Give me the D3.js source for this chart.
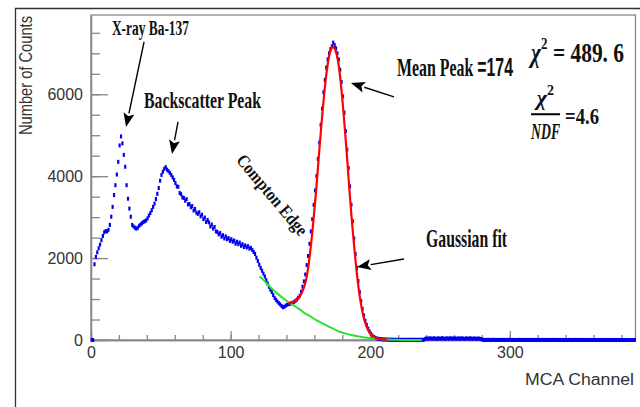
<!DOCTYPE html>
<html>
<head>
<meta charset="utf-8">
<script src="https://cdn.jsdelivr.net/npm/d3@7"></script>
<style>
  body { margin: 0; background: #fff; }
  .axis text { font-family: "Liberation Sans", Arial, sans-serif; font-size: 16px; fill: #333; }
  .axis line, .axis path { stroke: #888; stroke-width: 1.3; }
  .note { font-family: "Liberation Serif", "Times New Roman", serif; font-weight: bold; fill: #111; }
</style>
</head>
<body>
<svg id="spectrum" width="640" height="407"></svg>
<script>

// Counts per MCA channel, bin i covers [i, i+1)
var counts = [
    0, 0, 1850, 2030, 2140, 2240, 2330, 2440, 2540, 2630,          // 0
    2660, 2650, 2690, 2810, 3010, 3250, 3540, 3780, 4040, 4350,    // 10
    4750, 4970, 4800, 4520, 4230, 3780, 3450, 3210, 3010, 2810,    // 20
    2770, 2740, 2720, 2740, 2790, 2820, 2850, 2880, 2900, 2920,    // 30
    2970, 3040, 3100, 3170, 3250, 3330, 3440, 3570, 3710, 3890,    // 40
    4030, 4110, 4180, 4220, 4160, 4120, 4080, 4030, 3970, 3910,    // 50
    3830, 3750, 3740, 3590, 3560, 3480, 3470, 3400, 3440, 3310,    // 60
    3320, 3240, 3270, 3160, 3200, 3110, 3080, 3120, 3020, 3060,    // 70
    2950, 2990, 2880, 2930, 2870, 2770, 2820, 2720, 2760, 2650,    // 80
    2640, 2580, 2610, 2520, 2560, 2480, 2530, 2460, 2490, 2420,    // 90
    2460, 2400, 2430, 2350, 2400, 2340, 2380, 2300, 2340, 2270,    // 100
    2310, 2260, 2290, 2230, 2250, 2200, 2150, 2100, 2010, 1930,    // 110
    1840, 1760, 1690, 1620, 1550, 1460, 1380, 1300, 1230, 1170,    // 120
    1100, 1030, 980, 940, 900, 870, 830, 800, 810, 840,            // 130
    860, 875, 885, 895, 910, 930, 960, 990, 1030, 1080,            // 140
    1180, 1300, 1430, 1600, 1830, 2050, 2350, 2650, 2950, 3300,    // 150
    3650, 4000, 4420, 4820, 5250, 5650, 6050, 6350, 6650, 6850,    // 160
    7000, 7100, 7170, 7260, 7200, 7120, 7000, 6850, 6600, 6300,    // 170
    5950, 5550, 5100, 4650, 4200, 3750, 3300, 2900, 2480, 2100,    // 180
    1760, 1440, 1170, 950, 760, 600, 470, 370, 280, 210,           // 190
    150, 110, 75, 55, 40, 30, 25, 20, 18, 15,                      // 200
    12, 10, 9, 8, 7, 6, 6, 5, 5, 4,                                // 210
    5, 4, 6, 3, 5, 4, 3, 5, 4, 6,                                  // 220
    3, 4, 5, 3, 4, 6, 5, 4, 8, 30,                                 // 230
    38, 28, 42, 35, 30, 44, 33, 29, 40, 36,                        // 240
    31, 45, 34, 28, 39, 37, 30, 43, 32, 35,                        // 250
    41, 29, 36, 38, 30, 44, 33, 27, 40, 35,                        // 260
    31, 42, 34, 29, 37, 33, 26, 39, 30, 22,                        // 270
    4, 2, 3, 1, 5, 2, 0, 3, 4, 1,                                  // 280
    2, 0, 3, 1, 2, 4, 0, 1, 3, 2,                                  // 290
    1, 3, 0, 2, 1, 0, 4, 2, 1, 3,                                  // 300
    0, 2, 1, 3, 0, 1, 2, 0, 3, 1,                                  // 310
    2, 1, 0, 3, 1, 2, 0, 1, 2, 0,                                  // 320
    1, 3, 0, 2, 1, 0, 2, 1, 0, 3,                                  // 330
    1, 0, 2, 1, 0, 1, 3, 0, 1, 2,                                  // 340
    0, 1, 2, 0, 1, 0, 2, 1, 0, 1,                                  // 350
    2, 0, 1, 0, 1, 2, 0, 1, 0, 1,                                  // 360
    0, 1, 0, 2, 0, 1, 0, 0, 1, 0,                                  // 370
    1, 0, 0, 1, 0, 0, 1, 0, 0, 0                                   // 380
];

// Background under the photopeak [channel, counts]
var bgFit = [
    [120.7, 1550], [124, 1450], [127, 1340], [130, 1240], [134, 1120],
    [138, 1010], [141, 934], [145, 850], [149, 760], [153, 655],
    [157, 580], [161, 490], [165, 420], [170, 335], [174, 265],
    [178, 205], [183, 150], [188, 110], [193, 80], [199, 50],
    [205, 28], [211, 12], [218, 6], [225, 3], [237, 0]
];

// Gaussian + background fit of the 662 keV peak [channel, counts]
var gausFit = [
    [141.3, 894], [143, 905], [145, 930], [147, 975], [149, 1040],
    [151, 1150], [153, 1330], [155, 1640], [157, 2150], [159, 2800],
    [161, 3550], [163, 4400], [165, 5250], [167, 6000], [169, 6600],
    [171, 7000], [172, 7110], [173, 7150], [174, 7140], [175, 7080],
    [177, 6800], [179, 6250], [181, 5500], [183, 4650], [185, 3700],
    [187, 2850], [189, 2100], [191, 1450], [193, 950], [195, 600],
    [197, 360], [199, 210], [201, 120], [203, 70], [205, 40],
    [208, 20], [212, 8]
];

var xMajor = [0, 100, 200, 300];
var xMinor = [0, 20, 40, 60, 80, 100, 120, 140, 160, 180, 200,
              220, 240, 260, 280, 300, 320, 340, 360, 380];
var yMajor = [0, 2000, 4000, 6000];
var yMinor = [0, 500, 1000, 1500, 2000, 2500, 3000, 3500, 4000,
              4500, 5000, 5500, 6000, 6500, 7000, 7500];

var meanPeak = 174;
var chi2 = "489. 6";
var chi2ndf = "4.6";

var svg = d3.select("#spectrum");

var x = d3.scaleLinear().domain([0, 390]).range([91, 635.5]);
var y = d3.scaleLinear().domain([0, 7935]).range([340, 15]);

// canvas border
svg.append("path")
    .attr("d", "M15.5,407V8.5H640")
    .attr("fill", "none")
    .attr("stroke", "#333")
    .attr("stroke-width", 1.3);

// frame of the pad
svg.append("rect")
    .attr("x", x(0)).attr("y", y(7935))
    .attr("width", x(390) - x(0)).attr("height", y(0) - y(7935))
    .attr("fill", "none")
    .attr("stroke", "#888")
    .attr("stroke-width", 1.3);

/**
 * Axes, ticks pointing into the pad
 */
svg.append("g")
    .attr("class", "axis")
    .attr("transform", "translate(0," + y(0) + ")")
    .call(d3.axisBottom(x).tickValues(xMinor).tickSize(-5).tickSizeOuter(0).tickFormat(""));

svg.append("g")
    .attr("class", "axis")
    .attr("transform", "translate(0," + y(0) + ")")
    .call(d3.axisBottom(x).tickValues(xMajor).tickSize(-9).tickSizeOuter(0).tickPadding(7).tickFormat(d3.format("d")));

svg.append("g")
    .attr("class", "axis")
    .attr("transform", "translate(" + x(0) + ",0)")
    .call(d3.axisLeft(y).tickValues(yMinor).tickSize(-9).tickSizeOuter(0).tickFormat(""));

svg.append("g")
    .attr("class", "axis")
    .attr("transform", "translate(" + x(0) + ",0)")
    .call(d3.axisLeft(y).tickValues(yMajor).tickSize(-17).tickSizeOuter(0).tickPadding(8).tickFormat(d3.format("d")));

// axis titles
svg.append("text")
    .attr("text-anchor", "end")
    .attr("x", 634).attr("y", 385)
    .attr("textLength", 109).attr("lengthAdjust", "spacingAndGlyphs")
    .style("font-family", "Liberation Sans, Arial, sans-serif")
    .style("font-size", "16px").style("fill", "#333")
    .text("MCA Channel");

svg.append("text")
    .attr("text-anchor", "end")
    .attr("transform", "translate(32,16)rotate(-90)")
    .attr("textLength", 119).attr("lengthAdjust", "spacingAndGlyphs")
    .style("font-family", "Liberation Sans, Arial, sans-serif")
    .style("font-size", "18px").style("fill", "#333")
    .text("Number of Counts");

/**
 * Spectrum markers, one per channel
 */
svg.append("g")
    .selectAll("rect")
    .data(counts)
    .enter()
    .append("rect")
    .attr("x", function (d, i) { return x(i + 0.5) - 1.1; })
    .attr("y", function (d) { return y(d) - 2; })
    .attr("width", 2.2)
    .attr("height", 4)
    .attr("fill", "#0000f0");

// fitted curves
var fitLine = d3.line()
    .x(function (d) { return x(d[0]); })
    .y(function (d) { return y(d[1]); })
    .curve(d3.curveMonotoneX);

svg.append("path")
    .datum(bgFit)
    .attr("fill", "none")
    .attr("stroke", "#2fe02f")
    .attr("stroke-width", 2)
    .attr("d", fitLine);

svg.append("path")
    .datum(gausFit)
    .attr("fill", "none")
    .attr("stroke", "#ff0000")
    .attr("stroke-width", 2.2)
    .attr("d", fitLine);

/**
 * Annotations (placed in channel / counts units)
 */
function drawArrow(from, to) {
    var x0 = x(from[0]), y0 = y(from[1]), x1 = x(to[0]), y1 = y(to[1]);
    var dx = x1 - x0, dy = y1 - y0, len = Math.sqrt(dx * dx + dy * dy);
    var ux = dx / len, uy = dy / len;
    var head = 14, half = 5.5;
    var bx = x1 - ux * head, by = y1 - uy * head;
    svg.append("line")
        .attr("x1", x0).attr("y1", y0).attr("x2", bx).attr("y2", by)
        .attr("stroke", "#000").attr("stroke-width", 1.4);
    svg.append("path")
        .attr("d", "M" + x1 + "," + y1 +
            "L" + (bx - uy * half) + "," + (by + ux * half) +
            "L" + (bx + ux * 3 ) + "," + (by + uy * 3) +
            "L" + (bx + uy * half) + "," + (by - ux * half) + "Z")
        .attr("fill", "#000");
}

function note(str, ch, cnt, size, length) {
    return svg.append("text")
        .attr("class", "note")
        .attr("x", x(ch)).attr("y", y(cnt))
        .attr("textLength", length).attr("lengthAdjust", "spacingAndGlyphs")
        .style("font-size", size + "px")
        .text(str);
}

note("X-ray Ba-137", 15, 7448, 20, 77);
drawArrow([38, 7277], [25.1, 5201]);

note("Backscatter Peak", 38, 5658, 24, 117);
drawArrow([62.3, 5324], [58, 4542]);

var meanText = note("Mean Peak ", 219.2, 6447, 26, 116);
meanText.append("tspan")
    .style("font-family", "Liberation Sans, Arial, sans-serif")
    .text("=" + meanPeak);
drawArrow([217, 5934], [186.2, 6276]);

note("Gaussian fit", 240, 2278, 25, 81);
drawArrow([224.2, 1978], [190.5, 1783]);

svg.append("text")
    .attr("class", "note")
    .attr("text-anchor", "middle")
    .attr("dy", "0.33em")
    .attr("textLength", 100).attr("lengthAdjust", "spacingAndGlyphs")
    .attr("transform", "translate(" + x(129.7) + "," + y(3541) + ")rotate(50)")
    .style("font-size", "18px")
    .text("Compton Edge");

// fit quality
var chiText = svg.append("text")
    .attr("class", "note")
    .attr("x", x(315.2)).attr("y", y(6789))
    .attr("textLength", 93).attr("lengthAdjust", "spacingAndGlyphs")
    .style("font-size", "28px");
chiText.append("tspan").style("font-style", "italic").text("χ");
chiText.append("tspan").attr("dy", -13).style("font-size", "17px").text("2");
chiText.append("tspan").attr("dy", 13).text(" = " + chi2);

var numText = svg.append("text")
    .attr("class", "note")
    .attr("text-anchor", "middle")
    .attr("x", x(325.5)).attr("y", y(5739))
    .style("font-size", "22px");
numText.append("tspan").style("font-style", "italic").text("χ");
numText.append("tspan").attr("dy", -10).style("font-size", "14px").text("2");

svg.append("line")
    .attr("x1", x(315.2)).attr("x2", x(336))
    .attr("y1", y(5512)).attr("y2", y(5512))
    .attr("stroke", "#000").attr("stroke-width", 2);

svg.append("text")
    .attr("class", "note")
    .attr("x", x(315.2)).attr("y", y(4908))
    .attr("textLength", 29).attr("lengthAdjust", "spacingAndGlyphs")
    .style("font-size", "24px").style("font-style", "italic")
    .text("NDF");

note("=" + chi2ndf, 339.5, 5275, 24, 34);

</script>
</body>
</html>
